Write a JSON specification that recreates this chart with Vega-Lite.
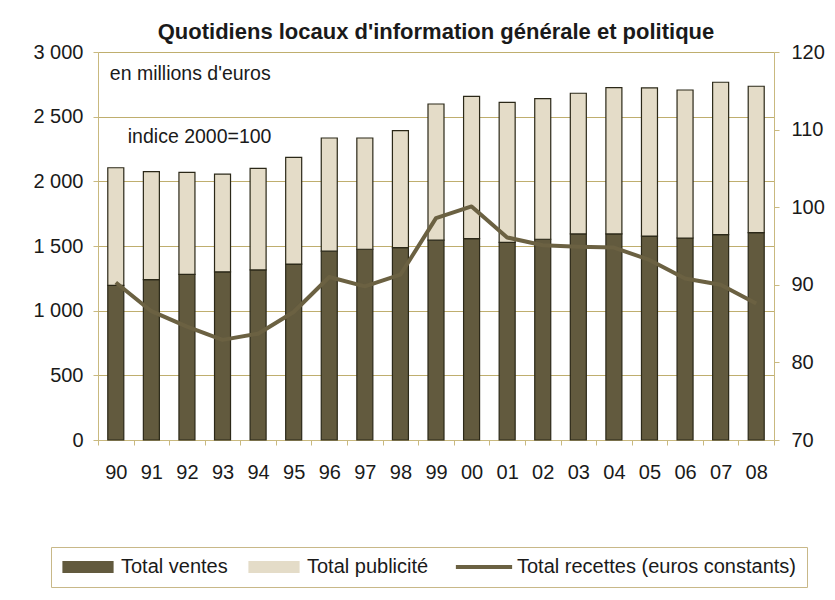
{
  "$schema": "https://vega.github.io/schema/vega-lite/v6.json",
  "width": 676,
  "height": 388,
  "autosize": {"type": "none"},
  "padding": {"left": 98, "top": 52, "right": 61, "bottom": 160},
  "background": "white",
  "title": {
    "text": "Quotidiens locaux d'information générale et politique",
    "font": "Liberation Sans",
    "fontSize": 22,
    "fontWeight": "bold",
    "color": "#1a1a1a",
    "anchor": "middle",
    "offset": -2
  },
  "datasets": {
    "bars": [
      {"year": "90", "serie": "Total ventes", "value": 1195},
      {"year": "90", "serie": "Total publicité", "value": 910},
      {"year": "91", "serie": "Total ventes", "value": 1240},
      {"year": "91", "serie": "Total publicité", "value": 835},
      {"year": "92", "serie": "Total ventes", "value": 1280},
      {"year": "92", "serie": "Total publicité", "value": 790},
      {"year": "93", "serie": "Total ventes", "value": 1300},
      {"year": "93", "serie": "Total publicité", "value": 755},
      {"year": "94", "serie": "Total ventes", "value": 1315},
      {"year": "94", "serie": "Total publicité", "value": 785},
      {"year": "95", "serie": "Total ventes", "value": 1360},
      {"year": "95", "serie": "Total publicité", "value": 825},
      {"year": "96", "serie": "Total ventes", "value": 1460},
      {"year": "96", "serie": "Total publicité", "value": 875},
      {"year": "97", "serie": "Total ventes", "value": 1475},
      {"year": "97", "serie": "Total publicité", "value": 860},
      {"year": "98", "serie": "Total ventes", "value": 1487},
      {"year": "98", "serie": "Total publicité", "value": 905},
      {"year": "99", "serie": "Total ventes", "value": 1545},
      {"year": "99", "serie": "Total publicité", "value": 1053},
      {"year": "00", "serie": "Total ventes", "value": 1557},
      {"year": "00", "serie": "Total publicité", "value": 1100},
      {"year": "01", "serie": "Total ventes", "value": 1528},
      {"year": "01", "serie": "Total publicité", "value": 1083},
      {"year": "02", "serie": "Total ventes", "value": 1552},
      {"year": "02", "serie": "Total publicité", "value": 1087},
      {"year": "03", "serie": "Total ventes", "value": 1593},
      {"year": "03", "serie": "Total publicité", "value": 1088},
      {"year": "04", "serie": "Total ventes", "value": 1593},
      {"year": "04", "serie": "Total publicité", "value": 1131},
      {"year": "05", "serie": "Total ventes", "value": 1577},
      {"year": "05", "serie": "Total publicité", "value": 1145},
      {"year": "06", "serie": "Total ventes", "value": 1562},
      {"year": "06", "serie": "Total publicité", "value": 1144},
      {"year": "07", "serie": "Total ventes", "value": 1588},
      {"year": "07", "serie": "Total publicité", "value": 1178},
      {"year": "08", "serie": "Total ventes", "value": 1603},
      {"year": "08", "serie": "Total publicité", "value": 1132}
    ],
    "line": [
      {"year": "90", "serie": "Total recettes (euros constants)", "indice": 90.3},
      {"year": "91", "serie": "Total recettes (euros constants)", "indice": 86.6},
      {"year": "92", "serie": "Total recettes (euros constants)", "indice": 84.6},
      {"year": "93", "serie": "Total recettes (euros constants)", "indice": 82.9},
      {"year": "94", "serie": "Total recettes (euros constants)", "indice": 83.7},
      {"year": "95", "serie": "Total recettes (euros constants)", "indice": 86.5},
      {"year": "96", "serie": "Total recettes (euros constants)", "indice": 91.0},
      {"year": "97", "serie": "Total recettes (euros constants)", "indice": 89.8},
      {"year": "98", "serie": "Total recettes (euros constants)", "indice": 91.3},
      {"year": "99", "serie": "Total recettes (euros constants)", "indice": 98.6},
      {"year": "00", "serie": "Total recettes (euros constants)", "indice": 100.1},
      {"year": "01", "serie": "Total recettes (euros constants)", "indice": 96.1},
      {"year": "02", "serie": "Total recettes (euros constants)", "indice": 95.1},
      {"year": "03", "serie": "Total recettes (euros constants)", "indice": 94.9},
      {"year": "04", "serie": "Total recettes (euros constants)", "indice": 94.8},
      {"year": "05", "serie": "Total recettes (euros constants)", "indice": 93.2},
      {"year": "06", "serie": "Total recettes (euros constants)", "indice": 90.8},
      {"year": "07", "serie": "Total recettes (euros constants)", "indice": 90.0},
      {"year": "08", "serie": "Total recettes (euros constants)", "indice": 87.6}
    ],
    "notes": [
      {"year": "90", "value": 2830, "note": "en millions d'euros"},
      {"year": "90", "value": 2343, "note": "indice 2000=100"}
    ]
  },
  "layer": [
    {
      "layer": [
        {
          "data": {"name": "bars"},
          "mark": {"type": "bar", "width": {"band": 0.45}, "stroke": "#2b2818", "strokeWidth": 1.2},
          "encoding": {
            "x": {
              "field": "year",
              "type": "nominal",
              "sort": null,
              "scale": {"paddingInner": 0, "paddingOuter": 0},
              "axis": {
                "title": null,
                "labelAngle": 0,
                "tickBand": "extent",
                "tickSize": 5,
                "labelPadding": 17,
                "labelFontSize": 20
              }
            },
            "y": {
              "field": "value",
              "type": "quantitative",
              "stack": "zero",
              "scale": {"domain": [0, 3000], "nice": false},
              "axis": {
                "title": null,
                "values": [0, 500, 1000, 1500, 2000, 2500, 3000],
                "labelExpr": "replace(format(datum.value, ','), ',', ' ')",
                "grid": true,
                "gridColor": "#bfae6e",
                "gridWidth": 1,
                "tickSize": 5,
                "labelPadding": 10,
                "labelFontSize": 20
              }
            },
            "color": {
              "field": "serie",
              "type": "nominal",
              "scale": {
                "domain": ["Total ventes", "Total publicité", "Total recettes (euros constants)"],
                "range": ["#625a3e", "#e4dcc8", "#6b6142"]
              },
              "legend": {
                "encode": {
                  "symbols": {
                    "update": {
                      "shape": {"signal": "datum.value === 'Total recettes (euros constants)' ? 'M-2.25,0H2.25' : 'M-2,-0.44H2V0.44H-2Z'"},
                      "fill": {"signal": "datum.value === 'Total ventes' ? '#625a3e' : (datum.value === 'Total publicité' ? '#e4dcc8' : 'transparent')"},
                      "stroke": {"signal": "datum.value === 'Total recettes (euros constants)' ? '#6b6142' : '#2b2818'"},
                      "strokeWidth": {"signal": "datum.value === 'Total recettes (euros constants)' ? 4 : 1.2"}
                    }
                  }
                }
              }
            },
            "order": {"field": "serie", "sort": "descending"}
          }
        },
        {
          "data": {"name": "notes"},
          "transform": [{"filter": "datum.note === \"en millions d'euros\""}],
          "mark": {"type": "text", "align": "left", "baseline": "middle", "dx": -6, "font": "Liberation Sans", "fontSize": 19.5, "color": "#1a1a1a"},
          "encoding": {
            "x": {"field": "year", "type": "nominal", "sort": null},
            "y": {"field": "value", "type": "quantitative"},
            "text": {"field": "note"}
          }
        },
        {
          "data": {"name": "notes"},
          "transform": [{"filter": "datum.note === 'indice 2000=100'"}],
          "mark": {"type": "text", "align": "left", "baseline": "middle", "dx": 12, "font": "Liberation Sans", "fontSize": 19.5, "color": "#1a1a1a"},
          "encoding": {
            "x": {"field": "year", "type": "nominal", "sort": null},
            "y": {"field": "value", "type": "quantitative"},
            "text": {"field": "note"}
          }
        }
      ]
    },
    {
      "data": {"name": "line"},
      "mark": {"type": "line", "strokeWidth": 4, "strokeJoin": "round", "strokeCap": "butt"},
      "encoding": {
        "x": {"field": "year", "type": "nominal", "sort": null},
        "y": {
          "field": "indice",
          "type": "quantitative",
          "scale": {"domain": [70, 120], "nice": false, "zero": false},
          "axis": {
            "title": null,
            "orient": "right",
            "values": [70, 80, 90, 100, 110, 120],
            "grid": false,
            "tickSize": 5,
            "labelPadding": 12,
            "labelFontSize": 20
          }
        },
        "color": {
          "field": "serie",
          "type": "nominal",
          "legend": {
            "encode": {
              "symbols": {
                "update": {
                  "shape": {"signal": "datum.value === 'Total recettes (euros constants)' ? 'M-2.25,0H2.25' : 'M-2,-0.44H2V0.44H-2Z'"},
                  "fill": {"signal": "datum.value === 'Total ventes' ? '#625a3e' : (datum.value === 'Total publicité' ? '#e4dcc8' : 'transparent')"},
                  "stroke": {"signal": "datum.value === 'Total recettes (euros constants)' ? '#6b6142' : '#2b2818'"},
                  "strokeWidth": {"signal": "datum.value === 'Total recettes (euros constants)' ? 4 : 1.2"}
                }
              }
            }
          }
        }
      }
    }
  ],
  "resolve": {"scale": {"y": "independent"}},
  "config": {
    "view": {"stroke": null},
    "font": "Liberation Sans",
    "axis": {
      "labelFont": "Liberation Sans",
      "labelColor": "#1a1a1a",
      "domainColor": "#c9b97f",
      "tickColor": "#c9b97f",
      "domainWidth": 1,
      "tickWidth": 1
    },
    "legend": {
      "title": null,
      "orient": "none",
      "legendX": -47,
      "legendY": 495,
      "direction": "horizontal",
      "padding": 10,
      "strokeColor": "#c8b888",
      "labelFont": "Liberation Sans",
      "labelFontSize": 20,
      "labelColor": "#1a1a1a",
      "labelLimit": 400,
      "symbolSize": 625,
      "symbolOffset": 17,
      "symbolOpacity": 1,
      "labelOffset": 23,
      "columnPadding": 18,
      "symbolStrokeWidth": 1,
      "symbolStrokeColor": "#2b2818",
      "symbolType": "M-2,-0.44H2V0.44H-2Z"
    }
  }
}
